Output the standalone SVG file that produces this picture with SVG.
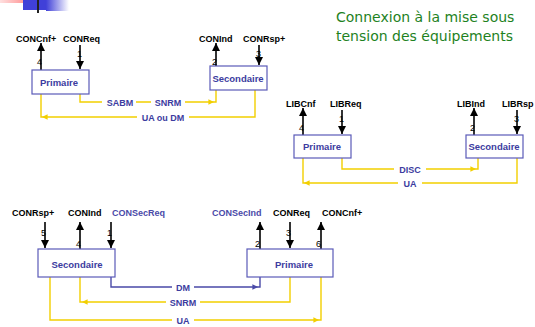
<svg xmlns="http://www.w3.org/2000/svg" width="535" height="327" viewBox="0 0 535 327">
<defs>
<linearGradient id="gp" x1="0" x2="1" y1="0" y2="0"><stop offset="0" stop-color="#ffe0e0"/><stop offset="1" stop-color="#ff8080"/></linearGradient>
<linearGradient id="gb" x1="0" x2="1" y1="0" y2="0"><stop offset="0" stop-color="#4040d8"/><stop offset="1" stop-color="#ffffff"/></linearGradient>
<marker id="ak" viewBox="0 0 10 10" refX="10" refY="5" markerWidth="5" markerHeight="5" orient="auto"><path d="M0,0 L10,5 L0,10 z" fill="#000"/></marker>
<marker id="ay" viewBox="0 0 10 10" refX="10" refY="5" markerWidth="4" markerHeight="4" orient="auto"><path d="M0,0 L10,5 L0,10 z" fill="#f2cf00"/></marker>
<marker id="ab" viewBox="0 0 10 10" refX="10" refY="5" markerWidth="4" markerHeight="4" orient="auto"><path d="M0,0 L10,5 L0,10 z" fill="#4a4aa8"/></marker>
</defs>
<style>
.lbl{font-family:"Liberation Sans",Arial,sans-serif;font-weight:bold;font-size:9px;fill:#000}
.blbl{font-family:"Liberation Sans",Arial,sans-serif;font-weight:bold;font-size:9px;fill:#4a4aa8}
.num{font-family:"Liberation Sans",Arial,sans-serif;font-size:9px;fill:#000}
.box{fill:#fff;stroke:#5a5ab8;stroke-width:1.2}
.bt{font-family:"Liberation Sans",Arial,sans-serif;font-weight:bold;font-size:9.5px;fill:#3c3ca0;text-anchor:middle}
.ct{font-family:"Liberation Sans",Arial,sans-serif;font-weight:bold;font-size:9px;fill:#3c3ca0;text-anchor:middle}
.ka{stroke:#000;stroke-width:1.6;fill:none;marker-end:url(#ak)}
.ya{stroke:#f2cf00;stroke-width:1.4;fill:none;marker-end:url(#ay)}
.ba{stroke:#4a4aa8;stroke-width:1.4;fill:none;marker-end:url(#ab)}
.title{font-family:"DejaVu Sans",Verdana,sans-serif;font-size:14px;fill:#1e821e}
</style>
<rect width="535" height="327" fill="#fff"/>
<g id="decoration">
<rect x="0" y="0" width="33" height="3" fill="url(#gp)"/>
<rect x="23" y="0" width="23" height="10" fill="#4040d8"/>
<rect x="46" y="0" width="23" height="11" fill="url(#gb)"/>
<line x1="38" y1="0" x2="38" y2="13" stroke="#222" stroke-width="2"/>
</g>
<g id="title">
<text class="title" x="336" y="22">Connexion à la mise sous</text>
<text class="title" x="336" y="41">tension des équipements</text>
</g>
<g id="connectors">
<path class="ka" d="M41,70 V43"/>
<path class="ka" d="M80,45 V69"/>
<path class="ka" d="M216,66 V43"/>
<path class="ka" d="M259,45 V65"/>
<path class="ya" d="M80,94 V102 H214"/>
<path stroke="#f2cf00" stroke-width="1.4" fill="none" d="M216,90 V102 H214"/>
<path class="ya" d="M255,90 V117 H42"/>
<path stroke="#f2cf00" stroke-width="1.4" fill="none" d="M41,94 V117 H42"/>
<path class="ka" d="M303,135 V108"/>
<path class="ka" d="M342,110 V134"/>
<path class="ka" d="M474,135 V108"/>
<path class="ka" d="M517,110 V134"/>
<path class="ya" d="M342,158 V169 H476"/>
<path stroke="#f2cf00" stroke-width="1.4" fill="none" d="M478,158 V169 H476"/>
<path class="ya" d="M517,158 V183 H304"/>
<path stroke="#f2cf00" stroke-width="1.4" fill="none" d="M303,158 V183 H304"/>
<path class="ka" d="M45,222 V248"/>
<path class="ka" d="M80,249 V222"/>
<path class="ka" d="M111,222 V248"/>
<path class="ka" d="M260,249 V222"/>
<path class="ka" d="M290,222 V248"/>
<path class="ka" d="M321,249 V222"/>
<path class="ba" d="M111,277 V287 H258"/>
<path stroke="#4a4aa8" stroke-width="1.4" fill="none" d="M260,277 V287 H258"/>
<path class="ya" d="M290,277 V302 H82"/>
<path stroke="#f2cf00" stroke-width="1.4" fill="none" d="M80,277 V302 H82"/>
<path class="ya" d="M50,277 V320 H319"/>
<path stroke="#f2cf00" stroke-width="1.4" fill="none" d="M321,277 V320 H319"/>
<g fill="#fff">
<rect x="102" y="96" width="34" height="12"/>
<rect x="151" y="96" width="34" height="12"/>
<rect x="137" y="111" width="52" height="12"/>
<rect x="394" y="163" width="32" height="12"/>
<rect x="398" y="177" width="24" height="12"/>
<rect x="172" y="281" width="22" height="12"/>
<rect x="166" y="296" width="34" height="12"/>
<rect x="172" y="314" width="22" height="12"/>
</g>
<text class="ct" x="120" y="106">SABM</text>
<text class="ct" x="168" y="106">SNRM</text>
<text class="ct" x="163" y="121">UA ou DM</text>
<text class="ct" x="410" y="173">DISC</text>
<text class="ct" x="410" y="187">UA</text>
<text class="ct" x="183" y="291">DM</text>
<text class="ct" x="183" y="306">SNRM</text>
<text class="ct" x="183" y="324">UA</text>
</g>
<g id="g1-primaire">
<rect class="box" x="32" y="70" width="57" height="24"/>
<text class="bt" x="59" y="86">Primaire</text>
<text class="lbl" x="16" y="42">CONCnf+</text>
<text class="lbl" x="63" y="42">CONReq</text>
<text class="num" x="37" y="65">4</text>
<text class="num" x="77" y="57">1</text>
</g>
<g id="g1-secondaire">
<rect class="box" x="210" y="66" width="57" height="24"/>
<text class="bt" x="238" y="82">Secondaire</text>
<text class="lbl" x="199" y="42">CONInd</text>
<text class="lbl" x="243" y="42">CONRsp+</text>
<text class="num" x="212" y="65">2</text>
<text class="num" x="256" y="57">3</text>
</g>
<g id="g2-primaire">
<rect class="box" x="294" y="135" width="57" height="23"/>
<text class="bt" x="322" y="150">Primaire</text>
<text class="lbl" x="286" y="107">LIBCnf</text>
<text class="lbl" x="330" y="107">LIBReq</text>
<text class="num" x="299" y="131">4</text>
<text class="num" x="339" y="122">1</text>
</g>
<g id="g2-secondaire">
<rect class="box" x="466" y="135" width="57" height="23"/>
<text class="bt" x="494" y="150">Secondaire</text>
<text class="lbl" x="457" y="107">LIBInd</text>
<text class="lbl" x="502" y="107">LIBRsp</text>
<text class="num" x="470" y="131">2</text>
<text class="num" x="514" y="122">3</text>
</g>
<g id="g3-secondaire">
<rect class="box" x="38" y="249" width="77" height="28"/>
<text class="bt" x="77" y="268">Secondaire</text>
<text class="lbl" x="12" y="216">CONRsp+</text>
<text class="lbl" x="68" y="216">CONInd</text>
<text class="blbl" x="112" y="216">CONSecReq</text>
<text class="num" x="41" y="236">5</text>
<text class="num" x="76" y="247">4</text>
<text class="num" x="107" y="236">1</text>
</g>
<g id="g3-primaire">
<rect class="box" x="247" y="249" width="86" height="28"/>
<text class="bt" x="294" y="268">Primaire</text>
<text class="blbl" x="212" y="216">CONSecInd</text>
<text class="lbl" x="273" y="216">CONReq</text>
<text class="lbl" x="322" y="216">CONCnf+</text>
<text class="num" x="255" y="247">2</text>
<text class="num" x="286" y="236">3</text>
<text class="num" x="316" y="247">6</text>
</g>
</svg>
